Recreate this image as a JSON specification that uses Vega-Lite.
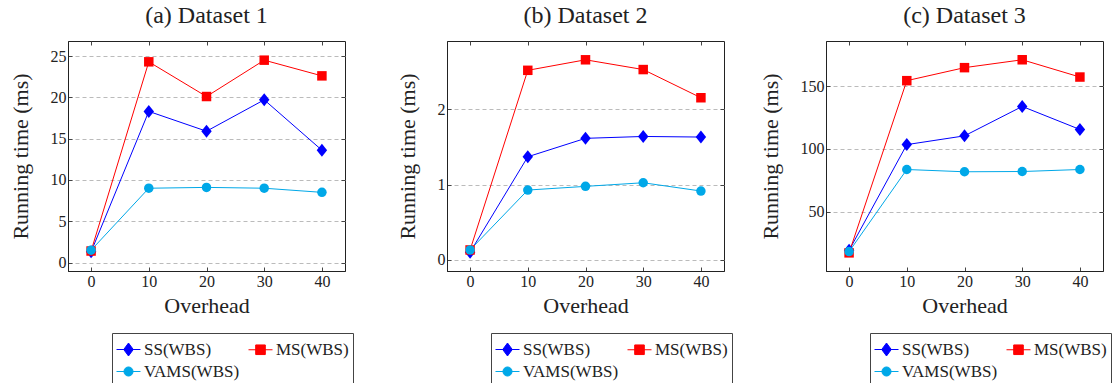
{
  "$schema": "https://vega.github.io/schema/vega-lite/v6.json",
  "padding": {"left": 8, "top": 3, "right": 0, "bottom": 0},
  "background": "white",
  "bounds": "flush",
  "spacing": 102,
  "resolve": {"scale": {"color": "independent"}, "legend": {"color": "independent"}},
  "config": {
    "font": "Liberation Serif",
    "view": {"stroke": "#222", "strokeWidth": 1},
    "title": {"font": "Liberation Serif", "fontSize": 24, "fontWeight": "normal", "color": "#222", "offset": 13},
    "axis": {
      "labelFont": "Liberation Serif", "labelFontSize": 16, "labelColor": "#222",
      "titleFont": "Liberation Serif", "titleFontSize": 22, "titleFontWeight": "normal", "titleColor": "#222",
      "domainColor": "#222", "tickColor": "#444", "tickSize": -4, "labelPadding": 6,
      "gridColor": "#bbb", "gridDash": [4, 3], "gridWidth": 1
    },
    "axisY": {"titlePadding": 18},
    "axisX": {"titlePadding": 6},
    "legend": {
      "labelFont": "Liberation Serif", "labelFontSize": 17, "labelColor": "#222",
      "strokeColor": "#444", "padding": 4, "columns": 2, "columnPadding": 6, "rowPadding": 1, "direction": "horizontal",
      "symbolSize": 576, "symbolStrokeWidth": 1, "labelOffset": 3, "orient": "none", "legendX": 44, "legendY": 292
    },
    "point": {"filled": true, "opacity": 1, "size": 90, "strokeWidth": 0.5}
  },
  "datasets": {
    "d1": [
      {"overhead": 0, "method": "SS(WBS)", "time": 1.3},
      {"overhead": 10, "method": "SS(WBS)", "time": 18.3},
      {"overhead": 20, "method": "SS(WBS)", "time": 15.9},
      {"overhead": 30, "method": "SS(WBS)", "time": 19.7},
      {"overhead": 40, "method": "SS(WBS)", "time": 13.6},
      {"overhead": 0, "method": "MS(WBS)", "time": 1.4},
      {"overhead": 10, "method": "MS(WBS)", "time": 24.3},
      {"overhead": 20, "method": "MS(WBS)", "time": 20.1},
      {"overhead": 30, "method": "MS(WBS)", "time": 24.5},
      {"overhead": 40, "method": "MS(WBS)", "time": 22.6},
      {"overhead": 0, "method": "VAMS(WBS)", "time": 1.5},
      {"overhead": 10, "method": "VAMS(WBS)", "time": 9.0},
      {"overhead": 20, "method": "VAMS(WBS)", "time": 9.1},
      {"overhead": 30, "method": "VAMS(WBS)", "time": 9.0},
      {"overhead": 40, "method": "VAMS(WBS)", "time": 8.5}
    ],
    "d2": [
      {"overhead": 0, "method": "SS(WBS)", "time": 0.1},
      {"overhead": 10, "method": "SS(WBS)", "time": 1.37},
      {"overhead": 20, "method": "SS(WBS)", "time": 1.615},
      {"overhead": 30, "method": "SS(WBS)", "time": 1.64},
      {"overhead": 40, "method": "SS(WBS)", "time": 1.632},
      {"overhead": 0, "method": "MS(WBS)", "time": 0.13},
      {"overhead": 10, "method": "MS(WBS)", "time": 2.52},
      {"overhead": 20, "method": "MS(WBS)", "time": 2.66},
      {"overhead": 30, "method": "MS(WBS)", "time": 2.53},
      {"overhead": 40, "method": "MS(WBS)", "time": 2.155},
      {"overhead": 0, "method": "VAMS(WBS)", "time": 0.13},
      {"overhead": 10, "method": "VAMS(WBS)", "time": 0.927},
      {"overhead": 20, "method": "VAMS(WBS)", "time": 0.976},
      {"overhead": 30, "method": "VAMS(WBS)", "time": 1.024},
      {"overhead": 40, "method": "VAMS(WBS)", "time": 0.914}
    ],
    "d3": [
      {"overhead": 0, "method": "SS(WBS)", "time": 19},
      {"overhead": 10, "method": "SS(WBS)", "time": 103.5},
      {"overhead": 20, "method": "SS(WBS)", "time": 110.5},
      {"overhead": 30, "method": "SS(WBS)", "time": 134},
      {"overhead": 40, "method": "SS(WBS)", "time": 115.6},
      {"overhead": 0, "method": "MS(WBS)", "time": 17},
      {"overhead": 10, "method": "MS(WBS)", "time": 154.6},
      {"overhead": 20, "method": "MS(WBS)", "time": 165},
      {"overhead": 30, "method": "MS(WBS)", "time": 171.3},
      {"overhead": 40, "method": "MS(WBS)", "time": 157.5},
      {"overhead": 0, "method": "VAMS(WBS)", "time": 18},
      {"overhead": 10, "method": "VAMS(WBS)", "time": 83.6},
      {"overhead": 20, "method": "VAMS(WBS)", "time": 81.8},
      {"overhead": 30, "method": "VAMS(WBS)", "time": 82},
      {"overhead": 40, "method": "VAMS(WBS)", "time": 83.6}
    ]
  },
  "hconcat": [
    {
      "width": 277, "height": 230,
      "data": {"name": "d1"},
      "title": "(a) Dataset 1",
      "resolve": {"axis": {"x": "independent", "y": "independent"}},
      "encoding": {
        "x": {"field": "overhead", "type": "quantitative", "scale": {"domain": [-4, 44], "nice": false, "zero": false}, "axis": null},
        "y": {"field": "time", "type": "quantitative", "scale": {"domain": [-1.02, 26.82], "nice": false, "zero": false}, "axis": null},
        "color": {"field": "method", "type": "nominal", "scale": {"domain": ["SS(WBS)", "MS(WBS)", "VAMS(WBS)"], "range": ["#0000ff", "#ff0000", "#00a8e8"]}, "legend": {"title": null, "encode": {"symbols": {"update": {"shape": {"signal": "datum.value === 'SS(WBS)' ? 'M-1,0H1M0,-0.54L0.4,0L0,0.54L-0.4,0Z' : datum.value === 'MS(WBS)' ? 'M-1,0H1M-0.4,-0.4H0.4V0.4H-0.4Z' : 'M-1,0H1M0.38,0A0.38,0.38,0,1,1,-0.38,0A0.38,0.38,0,1,1,0.38,0Z'"}}}}}}
      },
      "layer": [
        {
          "mark": {"type": "line", "strokeWidth": 1},
          "encoding": {
            "x": {"field": "overhead", "type": "quantitative", "scale": {"domain": [-4, 44], "nice": false, "zero": false}, "axis": {"orient": "bottom", "values": [0, 10, 20, 30, 40], "title": "Overhead", "grid": false}},
            "y": {"field": "time", "type": "quantitative", "scale": {"domain": [-1.02, 26.82], "nice": false, "zero": false}, "axis": {"orient": "left", "values": [0, 5, 10, 15, 20, 25], "title": "Running time (ms)", "grid": true}}
          }
        },
        {
          "transform": [{"filter": "datum.method === 'SS(WBS)'"}],
          "mark": {"type": "point", "shape": "M0,-1.37L1.1,0L0,1.37L-1.1,0Z"},
          "encoding": {
            "x": {"field": "overhead", "type": "quantitative", "scale": {"domain": [-4, 44], "nice": false, "zero": false}, "axis": {"orient": "top", "values": [0, 10, 20, 30, 40], "labels": false, "title": null, "grid": false, "domain": false}},
            "y": {"field": "time", "type": "quantitative", "scale": {"domain": [-1.02, 26.82], "nice": false, "zero": false}, "axis": {"orient": "right", "values": [0, 5, 10, 15, 20, 25], "labels": false, "title": null, "grid": false, "domain": false}}
          }
        },
        {"transform": [{"filter": "datum.method === 'MS(WBS)'"}], "mark": {"type": "point", "shape": "square"}},
        {"transform": [{"filter": "datum.method === 'VAMS(WBS)'"}], "mark": {"type": "point", "shape": "circle"}}
      ]
    },
    {
      "width": 277, "height": 230,
      "data": {"name": "d2"},
      "title": "(b) Dataset 2",
      "resolve": {"axis": {"x": "independent", "y": "independent"}},
      "encoding": {
        "x": {"field": "overhead", "type": "quantitative", "scale": {"domain": [-4, 44], "nice": false, "zero": false}, "axis": null},
        "y": {"field": "time", "type": "quantitative", "scale": {"domain": [-0.15, 2.91], "nice": false, "zero": false}, "axis": null},
        "color": {"field": "method", "type": "nominal", "scale": {"domain": ["SS(WBS)", "MS(WBS)", "VAMS(WBS)"], "range": ["#0000ff", "#ff0000", "#00a8e8"]}, "legend": {"title": null, "encode": {"symbols": {"update": {"shape": {"signal": "datum.value === 'SS(WBS)' ? 'M-1,0H1M0,-0.54L0.4,0L0,0.54L-0.4,0Z' : datum.value === 'MS(WBS)' ? 'M-1,0H1M-0.4,-0.4H0.4V0.4H-0.4Z' : 'M-1,0H1M0.38,0A0.38,0.38,0,1,1,-0.38,0A0.38,0.38,0,1,1,0.38,0Z'"}}}}}}
      },
      "layer": [
        {
          "mark": {"type": "line", "strokeWidth": 1},
          "encoding": {
            "x": {"field": "overhead", "type": "quantitative", "scale": {"domain": [-4, 44], "nice": false, "zero": false}, "axis": {"orient": "bottom", "values": [0, 10, 20, 30, 40], "title": "Overhead", "grid": false}},
            "y": {"field": "time", "type": "quantitative", "scale": {"domain": [-0.15, 2.91], "nice": false, "zero": false}, "axis": {"orient": "left", "values": [0, 1, 2], "title": "Running time (ms)", "grid": true}}
          }
        },
        {
          "transform": [{"filter": "datum.method === 'SS(WBS)'"}],
          "mark": {"type": "point", "shape": "M0,-1.37L1.1,0L0,1.37L-1.1,0Z"},
          "encoding": {
            "x": {"field": "overhead", "type": "quantitative", "scale": {"domain": [-4, 44], "nice": false, "zero": false}, "axis": {"orient": "top", "values": [0, 10, 20, 30, 40], "labels": false, "title": null, "grid": false, "domain": false}},
            "y": {"field": "time", "type": "quantitative", "scale": {"domain": [-0.15, 2.91], "nice": false, "zero": false}, "axis": {"orient": "right", "values": [0, 1, 2], "labels": false, "title": null, "grid": false, "domain": false}}
          }
        },
        {"transform": [{"filter": "datum.method === 'MS(WBS)'"}], "mark": {"type": "point", "shape": "square"}},
        {"transform": [{"filter": "datum.method === 'VAMS(WBS)'"}], "mark": {"type": "point", "shape": "circle"}}
      ]
    },
    {
      "width": 277, "height": 230,
      "data": {"name": "d3"},
      "title": "(c) Dataset 3",
      "resolve": {"axis": {"x": "independent", "y": "independent"}},
      "encoding": {
        "x": {"field": "overhead", "type": "quantitative", "scale": {"domain": [-4, 44], "nice": false, "zero": false}, "axis": null},
        "y": {"field": "time", "type": "quantitative", "scale": {"domain": [2.5, 186.3], "nice": false, "zero": false}, "axis": null},
        "color": {"field": "method", "type": "nominal", "scale": {"domain": ["SS(WBS)", "MS(WBS)", "VAMS(WBS)"], "range": ["#0000ff", "#ff0000", "#00a8e8"]}, "legend": {"title": null, "encode": {"symbols": {"update": {"shape": {"signal": "datum.value === 'SS(WBS)' ? 'M-1,0H1M0,-0.54L0.4,0L0,0.54L-0.4,0Z' : datum.value === 'MS(WBS)' ? 'M-1,0H1M-0.4,-0.4H0.4V0.4H-0.4Z' : 'M-1,0H1M0.38,0A0.38,0.38,0,1,1,-0.38,0A0.38,0.38,0,1,1,0.38,0Z'"}}}}}}
      },
      "layer": [
        {
          "mark": {"type": "line", "strokeWidth": 1},
          "encoding": {
            "x": {"field": "overhead", "type": "quantitative", "scale": {"domain": [-4, 44], "nice": false, "zero": false}, "axis": {"orient": "bottom", "values": [0, 10, 20, 30, 40], "title": "Overhead", "grid": false}},
            "y": {"field": "time", "type": "quantitative", "scale": {"domain": [2.5, 186.3], "nice": false, "zero": false}, "axis": {"orient": "left", "values": [50, 100, 150], "title": "Running time (ms)", "grid": true}}
          }
        },
        {
          "transform": [{"filter": "datum.method === 'SS(WBS)'"}],
          "mark": {"type": "point", "shape": "M0,-1.37L1.1,0L0,1.37L-1.1,0Z"},
          "encoding": {
            "x": {"field": "overhead", "type": "quantitative", "scale": {"domain": [-4, 44], "nice": false, "zero": false}, "axis": {"orient": "top", "values": [0, 10, 20, 30, 40], "labels": false, "title": null, "grid": false, "domain": false}},
            "y": {"field": "time", "type": "quantitative", "scale": {"domain": [2.5, 186.3], "nice": false, "zero": false}, "axis": {"orient": "right", "values": [50, 100, 150], "labels": false, "title": null, "grid": false, "domain": false}}
          }
        },
        {"transform": [{"filter": "datum.method === 'MS(WBS)'"}], "mark": {"type": "point", "shape": "square"}},
        {"transform": [{"filter": "datum.method === 'VAMS(WBS)'"}], "mark": {"type": "point", "shape": "circle"}}
      ]
    }
  ]
}
